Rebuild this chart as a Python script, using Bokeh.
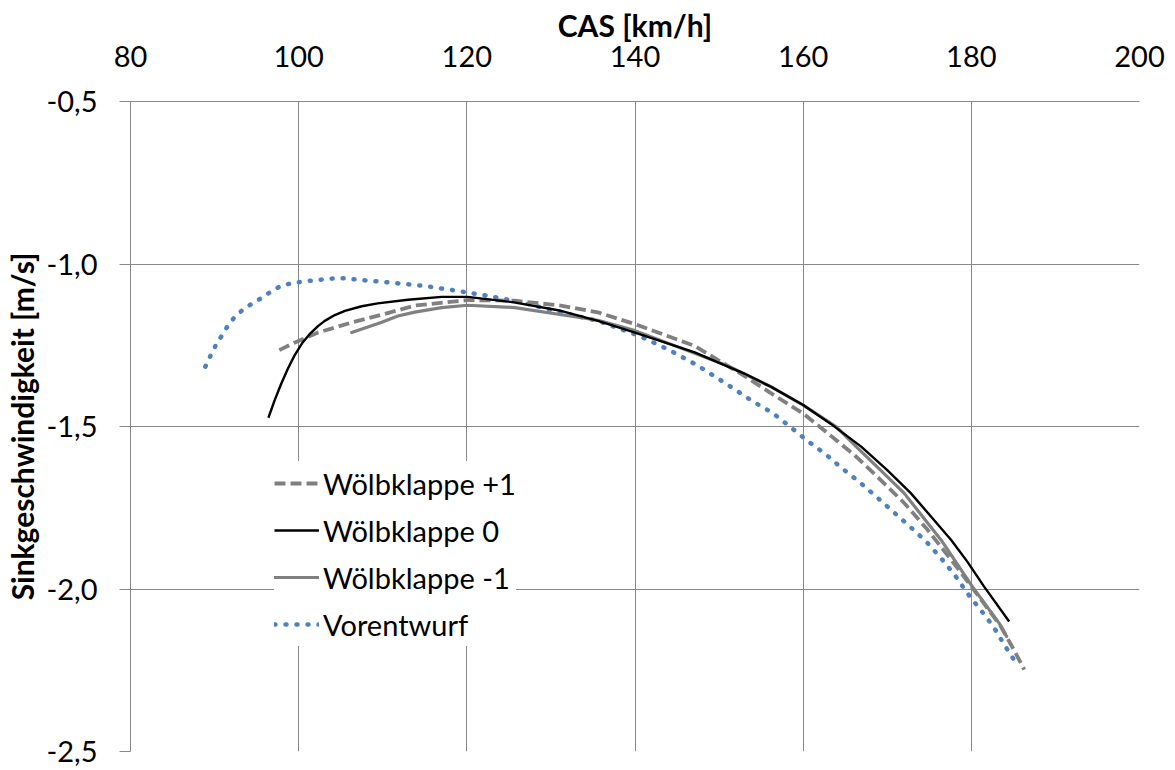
from bokeh.plotting import figure
from bokeh.models import FixedTicker, CustomJSTickFormatter, Legend, LegendItem, Range1d
from bokeh.embed import file_html
from bokeh.resources import INLINE

# ---- data ----
x_ticks = [80, 100, 120, 140, 160, 180, 200]
y_ticks = [-2.5, -2.0, -1.5, -1.0, -0.5]

wk1_x = [97.7, 99.5, 102.3, 106.3, 110.2, 113.8, 120.1, 125.7, 131.2, 135.6, 140.0, 147.1,
         153.0, 156.2, 160.0, 162.7, 166.1, 169.2, 172.0, 174.8, 177.6, 180.0, 183.5, 185.1, 186.3]
wk1_y = [-1.265, -1.242, -1.211, -1.180, -1.154, -1.128, -1.111, -1.113, -1.128, -1.149, -1.185, -1.252,
         -1.344, -1.398, -1.460, -1.516, -1.588, -1.664, -1.735, -1.818, -1.910, -1.992, -2.115, -2.189, -2.248]

wk0_x = [96.4, 97.15, 97.9, 98.74, 99.5, 100.4, 101.3, 102.3, 103.1, 104.3, 105.5, 107.5, 109.4, 113.0,
         117.0, 120.1, 125.6, 131.2, 135.6, 140.0, 147.1, 153.0, 156.2, 160.0, 163.3, 166.9, 170.0,
         172.8, 175.2, 177.6, 179.5, 181.5, 184.5]
wk0_y = [-1.473, -1.419, -1.370, -1.321, -1.282, -1.244, -1.216, -1.191, -1.175, -1.157, -1.144, -1.130,
         -1.121, -1.110, -1.101, -1.101, -1.118, -1.144, -1.175, -1.211, -1.272, -1.337, -1.378, -1.434,
         -1.492, -1.562, -1.634, -1.705, -1.777, -1.849, -1.915, -1.992, -2.100]

wkm1_x = [106.3, 109.8, 111.8, 113.8, 117.0, 120.1, 125.7, 135.6, 140.0, 151.0, 156.2, 160.0, 163.9,
          166.3, 169.2, 172.0, 176.4, 180.1, 183.3, 184.2]
wkm1_y = [-1.211, -1.180, -1.160, -1.148, -1.134, -1.127, -1.134, -1.173, -1.205, -1.313, -1.378, -1.434,
          -1.500, -1.562, -1.634, -1.705, -1.849, -1.992, -2.105, -2.146]

vor_x = [88.9, 89.5, 90.1, 90.8, 91.5, 92.3, 93.3, 94.4, 95.5, 96.6, 97.7, 99.0, 100.3, 101.6, 104.3,
         105.6, 106.9, 110.8, 114.8, 118.7, 122.5, 126.5, 131.2, 135.6, 140.5, 144.1, 147.5, 150.8,
         154.1, 156.4, 158.5, 160.5, 162.6, 164.6, 166.7, 168.7, 170.7, 172.7, 174.6, 176.4, 178.0,
         179.5, 181.1, 182.6, 184.2, 185.0]
vor_y = [-1.316, -1.283, -1.252, -1.223, -1.193, -1.166, -1.142, -1.123, -1.106, -1.087, -1.070, -1.060,
         -1.055, -1.051, -1.044, -1.044, -1.048, -1.057, -1.067, -1.082, -1.098, -1.118, -1.149, -1.175,
         -1.221, -1.265, -1.313, -1.368, -1.424, -1.459, -1.502, -1.544, -1.584, -1.628, -1.671, -1.716,
         -1.762, -1.808, -1.853, -1.905, -1.956, -2.012, -2.064, -2.115, -2.183, -2.215]

labels = ["Wölbklappe +1", "Wölbklappe 0", "Wölbklappe -1", "Vorentwurf"]

FONT = "Lato"
GRID = "#888888"

p = figure(width=1175, height=770, output_backend="svg", toolbar_location=None,
           x_axis_location="above",
           x_range=Range1d(80, 200), y_range=Range1d(-2.5, -0.5),
           frame_width=1009, frame_height=650,
           min_border_left=129, min_border_top=101, min_border_right=37, min_border_bottom=19)
p.outline_line_color = None
p.background_fill_color = "white"

for ax in (p.xaxis[0], p.yaxis[0]):
    ax.axis_line_color = GRID
    ax.major_tick_line_color = GRID
    ax.minor_tick_line_color = None
    ax.major_tick_in = 0
    ax.major_label_text_font = FONT
    ax.major_label_text_font_size = "29px"
    ax.major_label_text_color = "#000000"
    ax.axis_label_text_font = FONT
    ax.axis_label_text_font_style = "bold"
    ax.axis_label_text_font_size = "30px"
    ax.axis_label_text_color = "#000000"

p.xaxis.ticker = FixedTicker(ticks=x_ticks)
p.yaxis.ticker = FixedTicker(ticks=y_ticks)
p.xaxis.major_tick_out = 0
p.yaxis.major_tick_out = 11
p.xaxis.major_label_standoff = 35
p.yaxis.major_label_standoff = 22
p.xaxis.axis_label = "CAS [km/h]"
p.yaxis.axis_label = "Sinkgeschwindigkeit [m/s]"
p.xaxis.axis_label_standoff = 0
p.yaxis.axis_label_standoff = 4
p.yaxis.formatter = CustomJSTickFormatter(code="return tick.toFixed(1).replace('.', ',');")
p.xaxis.formatter = CustomJSTickFormatter(code="return tick.toFixed(0);")

p.xgrid.ticker = FixedTicker(ticks=x_ticks)
p.ygrid.ticker = FixedTicker(ticks=y_ticks)
p.grid.grid_line_color = GRID
p.grid.grid_line_width = 1

r_vor = p.line(vor_x, vor_y, line_color="#4F81BD", line_width=4.5, line_dash="1 10",
               line_cap="round", line_join="round")
r_wkm1 = p.line(wkm1_x, wkm1_y, line_color="#808080", line_width=3.2, line_join="round", line_cap="round")
r_wk1 = p.line(wk1_x, wk1_y, line_color="#808080", line_width=3.8, line_dash="11 5",
               line_join="round")
r_wk0 = p.line(wk0_x, wk0_y, line_color="#000000", line_width=2.4, line_join="round")

legend = Legend(items=[LegendItem(label=labels[0], renderers=[r_wk1]),
                       LegendItem(label=labels[1], renderers=[r_wk0]),
                       LegendItem(label=labels[2], renderers=[r_wkm1]),
                       LegendItem(label=labels[3], renderers=[r_vor])],
                location=(144, 105))
legend.border_line_color = None
legend.background_fill_color = "white"
legend.background_fill_alpha = 1.0
legend.label_text_font = FONT
legend.label_text_font_size = "29px"
legend.label_text_color = "#000000"
legend.glyph_width = 45
legend.glyph_height = 44
legend.label_height = 44
legend.label_standoff = 4
legend.spacing = 3
legend.padding = 10
legend.margin = 0
p.add_layout(legend, "center")

open("out.html", "w").write(file_html(p, INLINE))
